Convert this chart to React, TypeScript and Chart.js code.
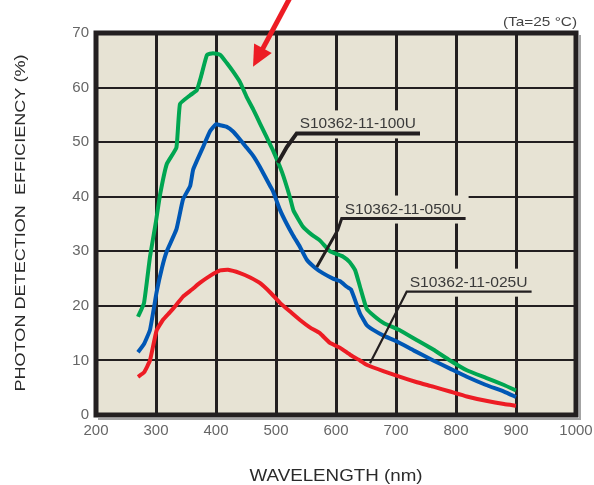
import React, { useEffect, useRef } from 'react';
import { Chart, registerables } from 'chart.js';

Chart.register(...registerables);

// ---- data (wavelength nm, photon detection efficiency %) ----
const wl100 = [270, 280, 290, 300, 307, 318, 334, 340, 357, 368, 375, 385, 395, 407, 418, 428, 440, 451, 462, 473, 484, 495, 510, 523, 529, 545, 560, 573, 590, 601, 612, 623, 632, 640, 651, 665, 680, 707, 735, 762, 790, 818, 850, 880, 900];
const pde100 = [18, 20.5, 29, 35.5, 40.5, 46, 49, 57, 58.6, 59.5, 62, 66, 66.3, 66, 64.5, 63, 61, 58.3, 56, 53.5, 51, 48.5, 44.5, 40, 37.5, 34.5, 33, 32, 30, 29.5, 29, 28, 26.5, 23.5, 19.5, 18, 16.8, 15.5, 13.7, 12, 10, 8.2, 6.8, 5.5, 4.5];

const wl050 = [270, 280, 290, 301, 310, 318, 334, 345, 357, 362, 378, 390, 400, 407, 418, 428, 440, 451, 462, 473, 490, 495, 507, 518, 528, 540, 551, 565, 578, 595, 607, 618, 625, 640, 651, 662, 680, 701, 730, 762, 790, 818, 850, 880, 900];
const pde050 = [11.5, 13, 15.6, 22.5, 27, 30, 34, 39.5, 42, 45, 49, 52, 53.3, 53.1, 52.8, 52, 50.5, 49, 47.5, 45.5, 42, 41, 37.5, 35, 33, 30.8, 28.5, 27, 26, 25, 24.5, 23.5, 23, 18.6, 16.5, 15.6, 14.5, 13.5, 11.8, 10, 8.5, 7, 5.5, 4.3, 3.3];

const wl025 = [270, 280, 290, 301, 312, 323, 334, 345, 360, 373, 390, 407, 420, 440, 457, 473, 490, 507, 523, 540, 557, 573, 590, 607, 624, 640, 651, 680, 707, 735, 762, 790, 818, 850, 880, 900];
const pde025 = [7, 7.8, 10, 15.5, 17.5, 18.8, 20.2, 21.7, 23, 24.2, 25.5, 26.5, 26.6, 26, 25.2, 24.2, 22.5, 20.5, 19, 17.4, 16, 15, 13.2, 12.3, 11, 10, 9.2, 8, 7, 6, 5.2, 4.3, 3.4, 2.6, 2, 1.7];

const seriesNames = ['S10362-11-100U', 'S10362-11-050U', 'S10362-11-025U'];
const xTicks = [200, 300, 400, 500, 600, 700, 800, 900, 1000];
const yTicks = [0, 10, 20, 30, 40, 50, 60, 70];

const xTitle = 'WAVELENGTH (nm)';
const yTitle = 'PHOTON DETECTION  EFFICIENCY (%)';
const condText = '(Ta=25 °C)';

// callout anchors in data units: leader points [nm, %], underline end (nm)
const calloutLeaders = [
  [[503, 46.2], [518, 49.1], [534.5, 51.6]],
  [[568, 27.1], [603, 33.9], [609.5, 36.0]],
  [[656.7, 9.5], [709.5, 20.8], [717.8, 22.6]],
];
const calloutEnds = [740, 816, 926];
// red arrow: start and tip in data units
const arrowStart = [523, 76.4];
const arrowTip = [461.7, 63.8];

const BG = '#e7e3d4';
const INK = '#231f20';

function toXY(wl: number[], v: number[]) {
  return wl.map((x, i) => ({ x, y: v[i] }));
}

function fitText(ctx: CanvasRenderingContext2D, text: string, x: number, y: number, w: number, align: 'left' | 'center' | 'right') {
  const m = ctx.measureText(text).width;
  const s = w / m;
  ctx.save();
  ctx.translate(x, y);
  ctx.scale(s, 1);
  ctx.textAlign = align;
  ctx.fillText(text, 0, 0);
  ctx.restore();
}

const decor = {
  id: 'decor',
  beforeDraw(chart: any) {
    const { ctx, chartArea: a } = chart;
    ctx.save();
    ctx.fillStyle = '#ffffff';
    ctx.fillRect(0, 0, chart.width, chart.height);
    ctx.fillStyle = BG;
    ctx.fillRect(a.left, a.top, a.right - a.left, a.bottom - a.top);
    ctx.restore();
  },
  beforeDatasetsDraw(chart: any) {
    const { ctx } = chart;
    const xs = chart.scales.x, ys = chart.scales.y;
    ctx.save();
    ctx.fillStyle = BG;
    calloutLeaders.forEach((pts, i) => {
      const p = pts[pts.length - 1];
      const x0 = xs.getPixelForValue(p[0]);
      const y0 = ys.getPixelForValue(p[1]);
      const x1 = xs.getPixelForValue(calloutEnds[i]);
      ctx.fillRect(x0 - 3, y0 - 23, x1 - x0 + 6, 28);
    });
    ctx.restore();
  },
  afterDatasetsDraw(chart: any) {
    const { ctx, chartArea: a } = chart;
    const xs = chart.scales.x, ys = chart.scales.y;
    const px = (p: number[]) => [xs.getPixelForValue(p[0]), ys.getPixelForValue(p[1])];
    ctx.save();
    // callouts
    const widths = [4, 3, 2.2];
    calloutLeaders.forEach((pts, i) => {
      ctx.strokeStyle = INK;
      ctx.lineWidth = widths[i];
      ctx.lineJoin = 'miter';
      ctx.beginPath();
      pts.forEach((p, k) => {
        const [x, y] = px(p);
        if (k === 0) ctx.moveTo(x, y); else ctx.lineTo(x, y);
      });
      const last = px(pts[pts.length - 1]);
      const xe = xs.getPixelForValue(calloutEnds[i]);
      ctx.lineTo(xe, last[1]);
      ctx.stroke();
      ctx.fillStyle = '#3a3a3a';
      ctx.font = '14px "Liberation Sans Narrow", "Liberation Sans", sans-serif';
      ctx.textBaseline = 'alphabetic';
      fitText(ctx, seriesNames[i], last[0] + 3, last[1] - 5, xe - last[0] - 7, 'left');
    });
    // frame with faint shadow
    ctx.strokeStyle = 'rgba(90,90,90,0.55)';
    ctx.lineWidth = 2;
    ctx.beginPath();
    ctx.moveTo(a.right + 4, a.top + 2);
    ctx.lineTo(a.right + 4, a.bottom + 4);
    ctx.lineTo(a.left + 2, a.bottom + 4);
    ctx.stroke();
    ctx.strokeStyle = INK;
    ctx.lineWidth = 5;
    ctx.strokeRect(a.left, a.top, a.right - a.left, a.bottom - a.top);
    // red arrow
    const [sx, sy] = px(arrowStart);
    const [tx, ty] = px(arrowTip);
    const dx = tx - sx, dy = ty - sy;
    const len = Math.hypot(dx, dy);
    const ux = dx / len, uy = dy / len;
    const hl = 21, hw = 10;
    ctx.strokeStyle = '#ed1c24';
    ctx.fillStyle = '#ed1c24';
    ctx.lineWidth = 5;
    ctx.beginPath();
    ctx.moveTo(sx, sy);
    ctx.lineTo(tx - ux * (hl - 2), ty - uy * (hl - 2));
    ctx.stroke();
    ctx.beginPath();
    ctx.moveTo(tx, ty);
    ctx.lineTo(tx - ux * hl - uy * hw, ty - uy * hl + ux * hw);
    ctx.lineTo(tx - ux * hl + uy * hw, ty - uy * hl - ux * hw);
    ctx.closePath();
    ctx.fill();
    // condition text
    ctx.fillStyle = '#444';
    ctx.font = '13px "Liberation Sans", sans-serif';
    ctx.textBaseline = 'alphabetic';
    fitText(ctx, condText, a.right + 1, a.top - 7, 74, 'right');
    // axis titles
    ctx.fillStyle = '#2a2a2a';
    ctx.font = '16px "Liberation Sans Narrow", "Liberation Sans", sans-serif';
    ctx.textBaseline = 'middle';
    fitText(ctx, xTitle, (a.left + a.right) / 2, 477, 173, 'center');
    ctx.save();
    ctx.translate(21, 223);
    ctx.rotate(-Math.PI / 2);
    ctx.font = '15px "Liberation Sans Narrow", "Liberation Sans", sans-serif';
    fitText(ctx, yTitle, 0, 0, 337, 'center');
    ctx.restore();
    ctx.restore();
  },
};

export default function App() {
  const ref = useRef<HTMLCanvasElement>(null);
  useEffect(() => {
    document.body.style.margin = '0';
    const c = ref.current!;
    const tickFont = { family: '"Liberation Sans", Arial, sans-serif', size: 15 };
    const chart = new Chart(c, {
      type: 'line',
      data: {
        datasets: [
          { label: seriesNames[0], data: toXY(wl100, pde100), borderColor: '#00a651', borderWidth: 4, pointRadius: 0, tension: 0.12, fill: false },
          { label: seriesNames[1], data: toXY(wl050, pde050), borderColor: '#0057b5', borderWidth: 4, pointRadius: 0, tension: 0.12, fill: false },
          { label: seriesNames[2], data: toXY(wl025, pde025), borderColor: '#ed1c24', borderWidth: 4, pointRadius: 0, tension: 0.12, fill: false },
        ],
      },
      options: {
        responsive: false,
        animation: false,
        devicePixelRatio: 1,
        layout: { padding: { top: 33, right: 18, left: 0, bottom: 0 } },
        plugins: { legend: { display: false }, tooltip: { enabled: false }, title: { display: false } },
        scales: {
          x: {
            type: 'linear',
            min: 200,
            max: 1000,
            afterBuildTicks: (s: any) => { s.ticks = xTicks.map((v) => ({ value: v })); },
            afterFit: (s: any) => { s.height = 70; s.paddingLeft = 0; s.paddingRight = 0; },
            grid: { color: INK, lineWidth: 3, drawTicks: false },
            border: { display: false },
            ticks: { color: '#666', font: tickFont, padding: 7, maxRotation: 0, autoSkip: false, callback: (v: any) => String(v) },
          },
          y: {
            type: 'linear',
            min: 0,
            max: 70,
            afterBuildTicks: (s: any) => { s.ticks = yTicks.map((v) => ({ value: v })); },
            afterFit: (s: any) => { s.width = 96; s.paddingTop = 0; s.paddingBottom = 0; },
            grid: { color: INK, lineWidth: 2, drawTicks: false },
            border: { display: false },
            ticks: { color: '#666', font: tickFont, padding: 7, callback: (v: any) => String(v) },
          },
        },
      },
      plugins: [decor],
    });
    return () => chart.destroy();
  }, []);
  return (
    <div style={{ width: 594, height: 485 }}>
      <canvas ref={ref} width={594} height={485} style={{ display: 'block' }} />
    </div>
  );
}
